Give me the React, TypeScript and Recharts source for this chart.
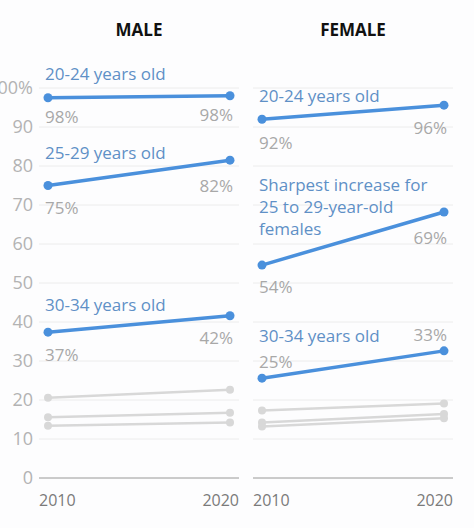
import React from 'react';
import { LineChart, Line, XAxis, YAxis, CartesianGrid } from 'recharts';

const YEARS = ['2010', '2020'];
const Y_TICKS = [0, 10, 20, 30, 40, 50, 60, 70, 80, 90, 100];

// male shares (%)
const MALE_20_24 = [97.5, 98];
const MALE_25_29 = [75, 81.5];
const MALE_30_34 = [37.4, 41.6];
const MALE_OTHER_A = [20.6, 22.6];
const MALE_OTHER_B = [15.6, 16.7];
const MALE_OTHER_C = [13.4, 14.2];

const MALE_LABELS_20_24 = ['98%', '98%'];
const MALE_LABELS_25_29 = ['75%', '82%'];
const MALE_LABELS_30_34 = ['37%', '42%'];

// female shares (%)
const FEMALE_20_24 = [92, 95.6];
const FEMALE_25_29 = [54.6, 68.2];
const FEMALE_30_34 = [25.6, 32.6];
const FEMALE_OTHER_A = [17.3, 19.1];
const FEMALE_OTHER_B = [14.2, 16.4];
const FEMALE_OTHER_C = [13.2, 15.3];

const FEMALE_LABELS_20_24 = ['92%', '96%'];
const FEMALE_LABELS_25_29 = ['54%', '69%'];
const FEMALE_LABELS_30_34 = ['25%', '33%'];

const BLUE = '#4a90dc';
const BLUE_TEXT = '#5f90c6';
const GRAY_LINE = '#d8d8d8';
const VALUE_TEXT = '#a8a8a8';
const FONT = '"Open Sans", "Noto Sans", sans-serif';

type Highlight = {
  key: string;
  name: string[];
  labels: string[];
  nameDy: number;
  valueDy: number[];
};

const buildRows = (a: number[], b: number[], c: number[], g1: number[], g2: number[], g3: number[]) =>
  YEARS.map((year, i) => ({ year, a: a[i], b: b[i], c: c[i], g1: g1[i], g2: g2[i], g3: g3[i] }));

const maleRows = buildRows(MALE_20_24, MALE_25_29, MALE_30_34, MALE_OTHER_A, MALE_OTHER_B, MALE_OTHER_C);
const femaleRows = buildRows(
  FEMALE_20_24,
  FEMALE_25_29,
  FEMALE_30_34,
  FEMALE_OTHER_A,
  FEMALE_OTHER_B,
  FEMALE_OTHER_C
);

const maleSeries: Highlight[] = [
  { key: 'a', name: ['20-24 years old'], labels: MALE_LABELS_20_24, nameDy: -25, valueDy: [19, 19] },
  { key: 'b', name: ['25-29 years old'], labels: MALE_LABELS_25_29, nameDy: -34, valueDy: [22, 25] },
  { key: 'c', name: ['30-34 years old'], labels: MALE_LABELS_30_34, nameDy: -28, valueDy: [22, 22] },
];

const femaleSeries: Highlight[] = [
  { key: 'a', name: ['20-24 years old'], labels: FEMALE_LABELS_20_24, nameDy: -24, valueDy: [23, 22] },
  {
    key: 'b',
    name: ['Sharpest increase for', '25 to 29-year-old', 'females'],
    labels: FEMALE_LABELS_25_29,
    nameDy: -81,
    valueDy: [21, 25],
  },
  { key: 'c', name: ['30-34 years old'], labels: FEMALE_LABELS_30_34, nameDy: -43, valueDy: [-17, -16] },
];

const makeDot = (s: Highlight) => (props: any) => {
  const { cx, cy, index } = props;
  const first = index === 0;
  return (
    <g key={`${s.key}-dot-${index}`}>
      <circle cx={cx} cy={cy} r={4.5} fill={BLUE} />
      {first && (
        <text x={cx - 3} y={cy + s.nameDy} fill={BLUE_TEXT} fontSize={17} fontFamily={FONT} dominantBaseline="central">
          {s.name.map((line, i) => (
            <tspan key={i} x={cx - 3} dy={i === 0 ? 0 : 22}>
              {line}
            </tspan>
          ))}
        </text>
      )}
      <text
        x={first ? cx - 3 : cx + 3}
        y={cy + s.valueDy[index]}
        textAnchor={first ? 'start' : 'end'}
        fill={VALUE_TEXT}
        fontSize={17}
        fontFamily={FONT}
        dominantBaseline="central"
      >
        {s.labels[index]}
      </text>
    </g>
  );
};

const YearTick = (props: any) => {
  const { x, y, payload, index } = props;
  const first = index === 0;
  return (
    <text
      x={first ? x - 9 : x + 9}
      y={y + 14}
      textAnchor={first ? 'start' : 'end'}
      fill="#7a7a7a"
      fontSize={16}
      fontFamily={FONT}
      dominantBaseline="central"
    >
      {payload.value}
    </text>
  );
};

function Panel({
  rows,
  series,
  showY,
  width,
  margin,
}: {
  rows: any[];
  series: Highlight[];
  showY: boolean;
  width: number;
  margin: { top: number; right: number; bottom: number; left: number };
}) {
  return (
    <LineChart width={width} height={528} data={rows} margin={margin}>
      <CartesianGrid horizontal vertical={false} stroke="#ececec" />
      <XAxis
        dataKey="year"
        padding={{ left: 9, right: 9 }}
        height={30}
        tickLine={false}
        tickSize={6}
        tickMargin={2}
        axisLine={{ stroke: '#a0a0a0' }}
        tick={<YearTick />}
        interval={0}
      />
      <YAxis
        hide={!showY}
        width={39}
        domain={[0, 100]}
        ticks={Y_TICKS}
        axisLine={false}
        tickLine={false}
        tickSize={4}
        tickMargin={2}
        interval={0}
        tickFormatter={(v: number) => (v === 100 ? '100%' : String(v))}
        tick={{ fill: '#b3b3b3', fontSize: 18, fontFamily: FONT }}
      />
      {['g1', 'g2', 'g3'].map((k) => (
        <Line
          key={k}
          dataKey={k}
          stroke={GRAY_LINE}
          strokeWidth={2.5}
          dot={{ r: 4, fill: GRAY_LINE, stroke: 'none' }}
          activeDot={false}
          isAnimationActive={false}
        />
      ))}
      {series.map((s) => (
        <Line
          key={s.key}
          dataKey={s.key}
          stroke={BLUE}
          strokeWidth={3.5}
          dot={makeDot(s)}
          activeDot={false}
          isAnimationActive={false}
        />
      ))}
    </LineChart>
  );
}

const titleStyle: React.CSSProperties = {
  position: 'absolute',
  top: 18,
  width: 200,
  textAlign: 'center',
  fontFamily: FONT,
  fontWeight: 700,
  fontSize: 17,
  color: '#111',
  lineHeight: '24px',
};

export default function App() {
  return (
    <div style={{ position: 'absolute', left: 0, top: 0, width: 474, height: 528, background: '#fdfdfe', overflow: 'hidden' }}>
      <div style={{ ...titleStyle, left: 39 }}>MALE</div>
      <div style={{ ...titleStyle, left: 253 }}>FEMALE</div>
      <div style={{ position: 'absolute', left: 0, top: 0 }}>
        <Panel rows={maleRows} series={maleSeries} showY width={245} margin={{ top: 88, right: 6, bottom: 20, left: 0 }} />
      </div>
      <div style={{ position: 'absolute', left: 240, top: 0 }}>
        <Panel
          rows={femaleRows}
          series={femaleSeries}
          showY={false}
          width={234}
          margin={{ top: 88, right: 21, bottom: 20, left: 13 }}
        />
      </div>
    </div>
  );
}
